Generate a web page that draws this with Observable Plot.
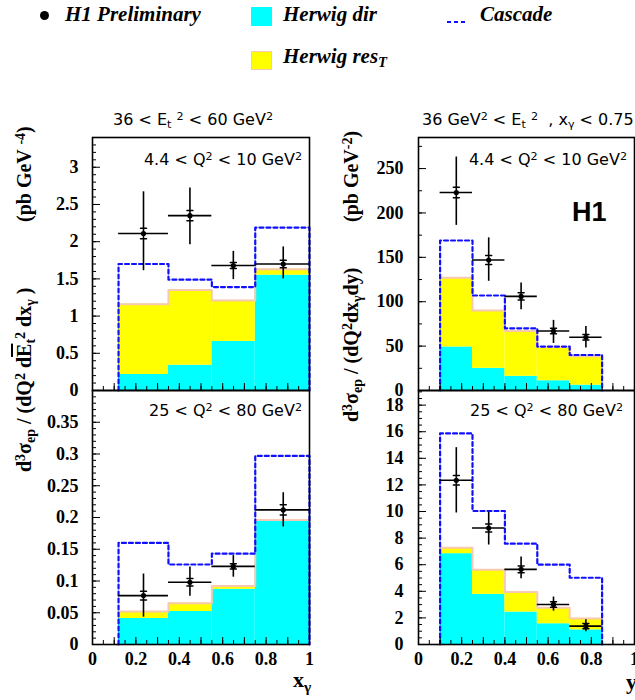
<!DOCTYPE html>
<html><head><meta charset="utf-8">
<script src="https://cdn.jsdelivr.net/npm/d3@7"></script>
<script src="https://cdn.jsdelivr.net/npm/@observablehq/plot@0.6"></script>
<style>
body{margin:0;background:#fff}
#root{position:relative;width:635px;height:700px;overflow:hidden;background:#fff}
.abs{position:absolute;white-space:nowrap;line-height:1}
.leg{font-family:"Liberation Serif",serif;font-weight:bold;font-style:italic;font-size:21px}
.ann{font-family:"DejaVu Sans",sans-serif;font-size:16px}
.lab{font-family:"Liberation Serif",serif;font-weight:bold;font-size:20px}
.sup{position:relative;top:-0.45em;font-size:0.7em}
.sub{position:relative;top:0.3em;font-size:0.7em}
.rot{transform-origin:0 0;transform:rotate(-90deg)}
.ov{text-decoration:overline}
</style></head>
<body><div id="root"></div>
<script>
// ---------- data ----------
// x_gamma panels (left)
const xgEdges   = [0.12, 0.35, 0.55, 0.75, 1.0];
const xgCenters = [0.235, 0.449, 0.649, 0.879];
// top-left: 4.4 < Q2 < 10
const tlVal  = [2.11, 2.35, 1.68, 1.70];
const tlHi   = [2.67, 2.72, 1.87, 1.93];
const tlLo   = [1.61, 1.96, 1.49, 1.50];
const tlStat = [0.07, 0.07, 0.04, 0.05];
const tlCasc = [1.70, 1.49, 1.39, 2.19];
const tlTot  = [1.16, 1.35, 1.21, 1.63];
const tlDir  = [0.215, 0.34, 0.66, 1.55];
// bottom-left: 25 < Q2 < 80
const blVal  = [0.077, 0.098, 0.123, 0.212];
const blHi   = [0.111, 0.122, 0.140, 0.239];
const blLo   = [0.043, 0.076, 0.106, 0.185];
const blStat = [0.007, 0.006, 0.004, 0.008];
const blCasc = [0.160, 0.126, 0.143, 0.297];
const blTot  = [0.052, 0.065, 0.092, 0.196];
const blDir  = [0.041, 0.052, 0.087, 0.194];
// y panels (right)
const yEdges   = [0.1, 0.25, 0.4, 0.55, 0.7, 0.85];
const yCenters = [0.175, 0.325, 0.475, 0.625, 0.775];
// top-right
const trVal  = [223, 147, 106, 67, 60];
const trHi   = [263, 172, 121, 79, 72];
const trLo   = [186, 123, 91, 53, 48];
const trStat = [6, 5, 4, 3, 3];
const trCasc = [169, 107, 70, 49.5, 40];
const trTot  = [127, 90, 67, 49, 38.6];
const trDir  = [49, 25, 16, 11, 6];
// bottom-right
const brVal  = [12.35, 8.76, 5.65, 3.01, 1.38];
const brHi   = [14.8, 9.94, 6.58, 3.57, 1.86];
const brLo   = [9.89, 7.48, 4.95, 2.51, 0.95];
const brStat = [0.35, 0.3, 0.25, 0.2, 0.2];
const brCasc = [15.87, 10.04, 7.58, 6.0, 5.02];
const brTot  = [7.28, 5.62, 3.94, 2.76, 1.96];
const brDir  = [6.83, 3.77, 2.44, 1.56, 1.10];
// tick labels
const xTickLabels = [0, 0.2, 0.4, 0.6, 0.8, 1];
const tlTicks = [0, 0.5, 1, 1.5, 2, 2.5, 3];
const blTicks = [0, 0.05, 0.1, 0.15, 0.2, 0.25, 0.3, 0.35];
const trTicks = [0, 50, 100, 150, 200, 250];
const brTicks = [0, 2, 4, 6, 8, 10, 12, 14, 16, 18];

// ---------- drawing ----------
const root = document.getElementById("root");
const CYAN = "#00ffff", YELLOW = "#ffff00", PINK = "#f8c8b0", BLUE = "#1010ff";
const SERIF = "'Liberation Serif', 'Times New Roman', serif";
const tickShape = {draw(ctx, l) { ctx.moveTo(0, 0); ctx.lineTo(0, -l); }};
const tickFont = {fontFamily: SERIF, fontSize: 18, fontWeight: "bold", fill: "black"};

function panel(o) {
  const {edges, centers, val, lo, hi, stat, casc, tot, dir, yDomain, yTicks, yMinorStep, showX,
         left, top, width, height, mL, mR, mT, mB, pad} = o;
  const fw = width - mL - mR, fh = height - mT - mB;
  const n = dir.length;
  const bins = dir.map((d, i) => ({x1: edges[i], x2: edges[i + 1], dir: d, tot: tot[i]}));
  const stepClosed = vals => [{x: edges[0], y: 0},
    ...vals.flatMap((v, i) => [{x: edges[i], y: v}, {x: edges[i + 1], y: v}]),
    {x: edges[n], y: 0}];
  const stepTop = vals => vals.flatMap((v, i) => [{x: edges[i], y: v}, {x: edges[i + 1], y: v}]);
  const pts = centers.map((c, i) => ({x: c, y: val[i], lo: lo[i], hi: hi[i], s: stat[i], x1: edges[i], x2: edges[i + 1]}));
  const yMinor = d3.range(0, yDomain[1] + 1e-9, yMinorStep);
  const xMinor = d3.range(0, 1.0001, 0.05);
  const xMajor = d3.range(0, 1.0001, 0.1);
  const marks = [
    Plot.rect(bins, {x1: "x1", x2: "x2", y1: 0, y2: "dir", fill: CYAN}),
    Plot.rect(bins, {x1: "x1", x2: "x2", y1: "dir", y2: "tot", fill: YELLOW}),
    Plot.line(stepTop(tot), {x: "x", y: "y", stroke: PINK, strokeWidth: 2}),
    Plot.line(stepClosed(casc), {x: "x", y: "y", stroke: BLUE, strokeWidth: 2.2, strokeDasharray: "4,3"}),
    Plot.ruleX(pts, {x: "x", y1: "lo", y2: "hi", stroke: "black", strokeWidth: 1.6}),
    Plot.ruleY(pts, {y: "y", x1: "x1", x2: "x2", stroke: "black", strokeWidth: 1.6}),
    Plot.vector(pts, {x: "x", y: d => d.y + d.s, length: 6, rotate: 90, anchor: "middle", shape: tickShape, stroke: "black", strokeWidth: 1.5}),
    Plot.vector(pts, {x: "x", y: d => d.y - d.s, length: 6, rotate: 90, anchor: "middle", shape: tickShape, stroke: "black", strokeWidth: 1.5}),
    Plot.dot(pts, {x: "x", y: "y", r: 2.6, fill: "black"}),
    Plot.tickY(yMinor, {y: d => d, insetRight: fw - 4, stroke: "black"}),
    Plot.tickY(yTicks, {y: d => d, insetRight: fw - 8, stroke: "black"}),
    Plot.tickX(xMinor, {x: d => d, insetTop: fh - 4, stroke: "black"}),
    Plot.tickX(xMajor, {x: d => d, insetTop: fh - 7, stroke: "black"}),
    Plot.frame({stroke: "black", strokeWidth: 1.6}),
    Plot.axisY({ticks: yTicks, tickSize: 0, tickPadding: pad, tickFormat: d => String(d), label: null, ...tickFont})
  ];
  if (showX) marks.push(Plot.axisX({ticks: xTickLabels, tickSize: 0, tickPadding: 8, tickFormat: d => String(d), label: null, ...tickFont}));
  const svg = Plot.plot({
    width, height, marginLeft: mL, marginRight: mR, marginTop: mT, marginBottom: mB,
    x: {domain: [0, 1], axis: showX ? undefined : null},
    y: {domain: yDomain},
    style: {position: "absolute", left: left + "px", top: top + "px", background: "transparent",
            overflow: "visible", maxWidth: "none", fontFamily: SERIF,
            fontSize: "18px", fontWeight: "bold", color: "black"},
    marks
  });
  root.appendChild(svg);
}

const leftGeom  = {left: 0,   width: 320, mL: 92, mR: 11, pad: 14};
const rightGeom = {left: 320, width: 324, mL: 98, mR: 10, pad: 15};
const topGeom   = {top: 100, height: 300, mT: 37, mB: 10};
const botGeom   = {top: 380, height: 314, mT: 10, mB: 50};

panel({...leftGeom, ...topGeom, edges: xgEdges, centers: xgCenters, val: tlVal, lo: tlLo, hi: tlHi, stat: tlStat,
  casc: tlCasc, tot: tlTot, dir: tlDir, yDomain: [0, 3.4], yTicks: tlTicks, yMinorStep: 0.1, showX: false});
panel({...rightGeom, ...topGeom, edges: yEdges, centers: yCenters, val: trVal, lo: trLo, hi: trHi, stat: trStat,
  casc: trCasc, tot: trTot, dir: trDir, yDomain: [0, 285], yTicks: trTicks, yMinorStep: 25, showX: false});
panel({...leftGeom, ...botGeom, edges: xgEdges, centers: xgCenters, val: blVal, lo: blLo, hi: blHi, stat: blStat,
  casc: blCasc, tot: blTot, dir: blDir, yDomain: [0, 0.4], yTicks: blTicks, yMinorStep: 0.01, showX: true});
panel({...rightGeom, ...botGeom, edges: yEdges, centers: yCenters, val: brVal, lo: brLo, hi: brHi, stat: brStat,
  casc: brCasc, tot: brTot, dir: brDir, yDomain: [0, 19.1], yTicks: brTicks, yMinorStep: 0.5, showX: true});

// ---------- text overlays ----------
function add(html, cls, style) {
  const d = document.createElement("div");
  d.className = "abs " + cls;
  d.innerHTML = html;
  Object.assign(d.style, style);
  root.appendChild(d);
  return d;
}
const SUP = s => `<span class="sup">${s}</span>`;
const SUB = s => `<span class="sub">${s}</span>`;

// legend
add("", "", {left: "39.5px", top: "10.5px", width: "9px", height: "9px", borderRadius: "50%", background: "black"});
add("H1 Preliminary", "leg", {left: "65px", top: "4px"});
add("", "", {left: "251px", top: "7px", width: "21px", height: "19px", background: CYAN});
add("Herwig dir", "leg", {left: "283px", top: "4px"});
add(`<svg width="20" height="6"><line x1="0" y1="3" x2="20" y2="3" stroke="${BLUE}" stroke-width="2" stroke-dasharray="4,3"/></svg>`, "", {left: "447px", top: "12px"});
add("Cascade", "leg", {left: "480px", top: "4px"});
add("", "", {left: "251px", top: "51px", width: "19px", height: "17px", background: YELLOW, border: "1px solid " + PINK});
add("Herwig res" + SUB("T"), "leg", {left: "283px", top: "46px"});

// panel titles
add(`36 &lt; E${SUB("t")} ${SUP("2")} &lt; 60 GeV${SUP("2")}`, "ann", {left: "113px", top: "112px"});
add(`36 GeV${SUP("2")} &lt; E${SUB("t")} ${SUP("2")} &nbsp;, x${SUB("γ")} &lt; 0.75`, "ann", {left: "422px", top: "112px"});
// annotations
add(`4.4 &lt; Q${SUP("2")} &lt; 10 GeV${SUP("2")}`, "ann", {right: "333px", top: "152px"});
add(`4.4 &lt; Q${SUP("2")} &lt; 10 GeV${SUP("2")}`, "ann", {right: "8px", top: "152px"});
add(`25 &lt; Q${SUP("2")} &lt; 80 GeV${SUP("2")}`, "ann", {right: "333px", top: "403px"});
add(`25 &lt; Q${SUP("2")} &lt; 80 GeV${SUP("2")}`, "ann", {right: "12px", top: "403px"});
add("H1", "", {left: "572px", top: "199px", fontFamily: "'Liberation Sans', Arial, sans-serif", fontWeight: "bold", fontSize: "27px"});

// y-axis labels (rotated)
add(`d${SUP("3")}σ${SUB("ep")} / (dQ${SUP("2")} d<span class="ov">E</span>${SUB("t")}${SUP("2")} dx${SUB("γ")} )`, "lab rot", {left: "14px", top: "472px"});
add(`(pb GeV ${SUP("-4")})`, "lab rot", {left: "14px", top: "222px"});
add(`d${SUP("3")}σ${SUB("ep")} / (dQ${SUP("2")}dx${SUB("γ")}dy)`, "lab rot", {left: "341px", top: "422px"});
add(`(pb GeV${SUP("-2")})`, "lab rot", {left: "341px", top: "222px"});

// x-axis labels
add(`x${SUB("γ")}`, "lab", {left: "293px", top: "669px", fontSize: "22px"});
add("y", "lab", {left: "626px", top: "671px", fontSize: "22px"});
</script></body></html>
